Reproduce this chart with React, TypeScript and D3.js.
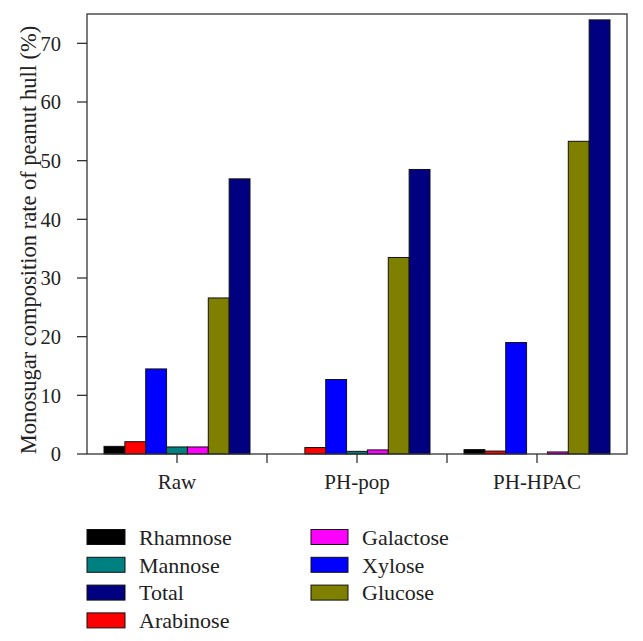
import React from "react";
import * as d3 from "d3";

const categories = ["Raw", "PH-pop", "PH-HPAC"];
const seriesNames = ["Rhamnose", "Arabinose", "Xylose", "Mannose", "Galactose", "Glucose", "Total"];
const seriesColors = ["#000000", "#ff0000", "#0000ff", "#008080", "#ff00ff", "#808000", "#000080"];
const rhamnose = [1.3, 0, 0.75];
const arabinose = [2.1, 1.1, 0.5];
const xylose = [14.5, 12.7, 19.0];
const mannose = [1.2, 0.45, 0];
const galactose = [1.2, 0.7, 0.35];
const glucose = [26.6, 33.5, 53.3];
const total = [46.9, 48.5, 74.0];
const seriesValues = [rhamnose, arabinose, xylose, mannose, galactose, glucose, total];
const yTicks = [0, 10, 20, 30, 40, 50, 60, 70];
const legendCol1 = ["Rhamnose", "Mannose", "Total", "Arabinose"];
const legendCol2 = ["Galactose", "Xylose", "Glucose"];

const FONT = "'Liberation Serif', 'Times New Roman', serif";

export default function App() {
  const left = 87, right = 627, top = 14, bottom = 454;
  const x0 = d3.scaleBand<string>().domain(categories).range([left, right]).padding(0);
  const bw = x0.bandwidth();
  const groupW = 146;
  const x1 = d3.scaleBand<string>().domain(seriesNames).range([(bw - groupW) / 2, (bw + groupW) / 2]).padding(0);
  const y = d3.scaleLinear().domain([0, 75]).range([bottom, top]);
  const colorOf = (n: string) => seriesColors[seriesNames.indexOf(n)];

  const xTickPos: number[] = [];
  categories.forEach((c, i) => {
    if (i > 0) xTickPos.push(x0(c)!);
    xTickPos.push(x0(c)! + bw / 2);
  });

  const axisColor = "#333";
  const legendRowY = (i: number) => 537 + i * 27.8;

  return (
    <svg width={643} height={641} style={{ position: "absolute", left: 0, top: 0, background: "#fff" }}>
      {categories.map((c, ci) => (
        <g key={c} transform={`translate(${x0(c)},0)`}>
          {seriesNames.map((s, si) => {
            const v = seriesValues[si][ci];
            if (v <= 0) return null;
            return (
              <rect
                key={s}
                x={x1(s)}
                y={y(v)}
                width={x1.bandwidth()}
                height={y(0) - y(v)}
                fill={seriesColors[si]}
                stroke="#111"
                strokeWidth={1}
              />
            );
          })}
        </g>
      ))}
      <rect x={left} y={top} width={right - left} height={bottom - top} fill="none" stroke={axisColor} strokeWidth={1.3} />
      {yTicks.map((t) => (
        <g key={t}>
          <line x1={left - 10} x2={left} y1={y(t)} y2={y(t)} stroke={axisColor} strokeWidth={1.3} />
          <text x={left - 26} y={y(t)} dy="0.35em" textAnchor="end" fontFamily={FONT} fontSize={20.5} fill="#222">
            {t}
          </text>
        </g>
      ))}
      {xTickPos.map((p, i) => (
        <line key={i} x1={p} x2={p} y1={bottom} y2={bottom + 9} stroke={axisColor} strokeWidth={1.3} />
      ))}
      {categories.map((c) => (
        <text key={c} x={x0(c)! + bw / 2} y={489} textAnchor="middle" fontFamily={FONT} fontSize={21} fill="#222">
          {c}
        </text>
      ))}
      <text
        transform={`translate(36,${(top + bottom) / 2 + 6}) rotate(-90)`}
        textAnchor="middle"
        fontFamily={FONT}
        fontSize={22.5}
        fill="#222"
      >
        Monosugar composition rate of peanut hull (%)
      </text>
      {legendCol1.map((n, i) => (
        <g key={n}>
          <rect x={87} y={legendRowY(i) - 7.5} width={38} height={15} fill={colorOf(n)} stroke="#111" strokeWidth={1} />
          <text x={139} y={legendRowY(i)} dy="0.35em" fontFamily={FONT} fontSize={22} fill="#222">
            {n}
          </text>
        </g>
      ))}
      {legendCol2.map((n, i) => (
        <g key={n}>
          <rect x={311} y={legendRowY(i) - 7.5} width={37} height={15} fill={colorOf(n)} stroke="#111" strokeWidth={1} />
          <text x={362} y={legendRowY(i)} dy="0.35em" fontFamily={FONT} fontSize={22} fill="#222">
            {n}
          </text>
        </g>
      ))}
    </svg>
  );
}
